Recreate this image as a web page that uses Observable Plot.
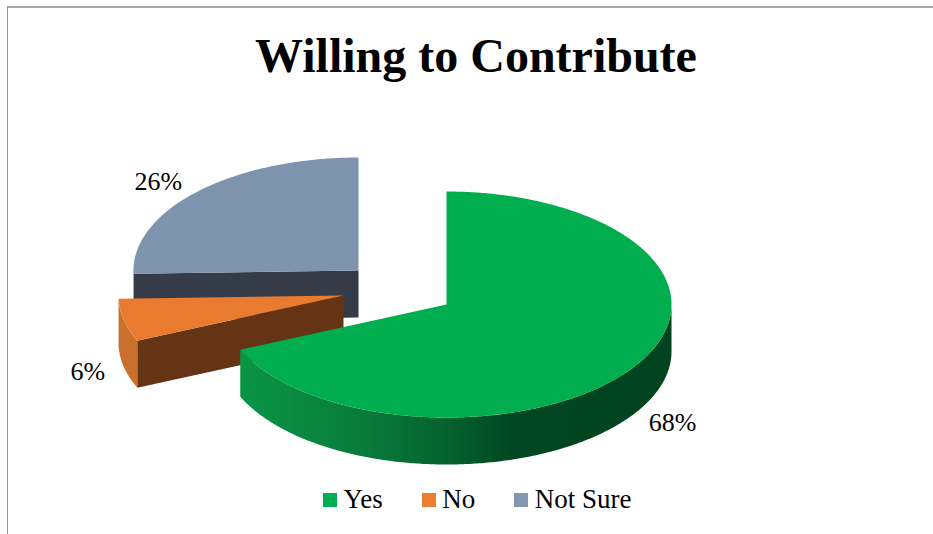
<!DOCTYPE html>
<html lang="en">
<head>
<meta charset="utf-8">
<title>Willing to Contribute</title>
<script src="https://cdn.jsdelivr.net/npm/d3@7"></script>
<script src="https://cdn.jsdelivr.net/npm/@observablehq/plot@0.6"></script>
<style>
  html, body { margin: 0; padding: 0; background: #fff; }
  #frame {
    position: relative; width: 933px; height: 534px; box-sizing: border-box;
    overflow: hidden; background: #fff;
  }
  #frame::before {
    content: ""; position: absolute; left: 6.5px; top: 6px; right: 0; bottom: 0;
    border-top: 2px solid #a6a6a6; border-left: 1.5px solid #949494;
  }
  #heading {
    position: absolute; left: 0; top: 26px; width: 952px; margin: 0; text-align: center;
    font: bold 48px/60px "Liberation Serif", serif; color: #000;
  }
  #chart { position: absolute; left: 0; top: 100px; }
  #chart svg { display: block; }
  #key { position: absolute; left: 323px; top: 484px; }
  #key .key-swatches { margin: 0; min-height: 0; font: 27px "Liberation Serif", serif; color: #000; }
  #key .key-swatch { margin-right: 39px; }
  #key .key-swatch > svg { margin-right: 6.5px; }
</style>
</head>
<body>
<div id="frame">
  <h1 id="heading">Willing to Contribute</h1>
  <div id="chart"></div>
  <div id="key"></div>
</div>
<script>
// Survey answers, in the order the slices run clockwise from twelve o'clock.
const answers = ["Yes", "No", "Not Sure"];
const shares = [68, 6, 26];

// Colours of each slice: key and top, outer wall, cut face.
const keyColors = ["#00B050", "#ED7D31", "#8497B0"];
const topColors = ["#00AE4F", "#E97B2F", "#7E93AD"];
const wallColors = ["url(#yes-wall)", "#C8702C", "#353C47"];
const cutColors = ["none", "#653414", "#353C47"];

// Pixel layout of the tilted disc.
const width = 933, height = 380;
const centerX = 446, centerY = 204;
const radiusX = 225, radiusY = 113, depth = 47;

// Exploded slices slide away from the disc centre, in pixels.
const shift = {"Yes": [0, 0], "No": [-103, -9], "Not Sure": [-88, -34]};
// Label nudges from the slice's rim midpoint, in pixels.
const labelNudge = {"Yes": [36, 58], "No": [-36, 52], "Not Sure": [-39, -10]};

const arcs = d3.pie().sort(null).value((d, i) => shares[i])(answers);

const TAU = 2 * Math.PI;
// Perspective of the tilted view pulls the left half of the rim slightly forward.
const leftHalfSkew = 2 * Math.PI / 180;

function viewAngle(angle) {
  return angle > TAU / 2 ? angle + leftHalfSkew * Math.sin(angle) ** 2 : angle;
}

// A point on the unit disc at a clockwise angle, with the slice's shift and a drop below the top face.
function rimPoint(answer, angle, radius = 1, drop = 0) {
  const [sx, sy] = shift[answer];
  const t = viewAngle(angle);
  return {
    x: radius * Math.sin(t) + sx / radiusX,
    y: radius * Math.cos(t) - (sy + drop) / radiusY
  };
}

function arcAngles(a0, a1) {
  const n = Math.max(2, Math.ceil((a1 - a0) / 0.01));
  return d3.range(n + 1).map((i) => a0 + (a1 - a0) * i / n);
}

function topFace(arc) {
  const a = arc.data;
  return [rimPoint(a, 0, 0), ...arcAngles(arc.startAngle, arc.endAngle).map((t) => rimPoint(a, t))];
}

// Outer wall: the part of the rim that faces the viewer (between 3 and 9 o'clock).
function wallFace(arc) {
  const a = arc.data;
  const a0 = Math.max(arc.startAngle, TAU / 4), a1 = Math.min(arc.endAngle, 3 * TAU / 4);
  if (a1 <= a0) return [];
  const angles = arcAngles(a0, a1);
  return [
    ...angles.map((t) => rimPoint(a, t)),
    ...angles.slice().reverse().map((t) => rimPoint(a, t, 1, depth))
  ];
}

// Cut face along the slice's leading edge.
function cutFace(arc) {
  const a = arc.data, t = arc.startAngle;
  return [rimPoint(a, 0, 0), rimPoint(a, t), rimPoint(a, t, 1, depth), rimPoint(a, 0, 0, depth)];
}

const poly = (points, fill) =>
  Plot.line(points, {x: "x", y: "y", fill, stroke: "none", curve: "linear"});

// Back slices first so that nearer ones cover them.
const drawOrder = [2, 1, 0];
const faces = drawOrder.flatMap((i) => {
  const arc = arcs[i];
  return [
    poly(cutFace(arc), cutColors[i]),
    poly(wallFace(arc), wallColors[i]),
    poly(topFace(arc), topColors[i])
  ];
});

// Horizontal shading on the front wall of the largest slice.
const wallGradient = () => {
  const defs = d3.create("svg:defs");
  const g = defs.append("linearGradient").attr("id", "yes-wall");
  [[0, "#0A9545"], [0.28, "#087C3B"], [0.48, "#05622E"], [0.63, "#004722"], [1, "#00431F"]]
    .forEach(([o, c]) => g.append("stop").attr("offset", o).attr("stop-color", c));
  return defs.node();
};

const labels = arcs.map((arc, i) => {
  const a = arc.data, mid = (arc.startAngle + arc.endAngle) / 2;
  const [dx, dy] = labelNudge[a];
  return Plot.text([rimPoint(a, mid)], {
    x: "x", y: "y", dx, dy, text: () => `${shares[i]}%`,
    fontSize: 26, fontFamily: "Liberation Serif", fill: "#000"
  });
});

const chart = Plot.plot({
  width, height,
  margin: 0,
  style: {background: "transparent"},
  x: {axis: null, domain: [-centerX / radiusX, (width - centerX) / radiusX], range: [0, width]},
  y: {axis: null, domain: [-(height - centerY) / radiusY, centerY / radiusY], range: [height, 0]},
  marks: [wallGradient, ...faces, ...labels]
});
document.getElementById("chart").append(chart);

const key = Plot.legend({
  legend: "swatches",
  className: "key",
  swatchSize: 14,
  color: {type: "ordinal", domain: answers, range: keyColors}
});
document.getElementById("key").append(key);
</script>
</body>
</html>
